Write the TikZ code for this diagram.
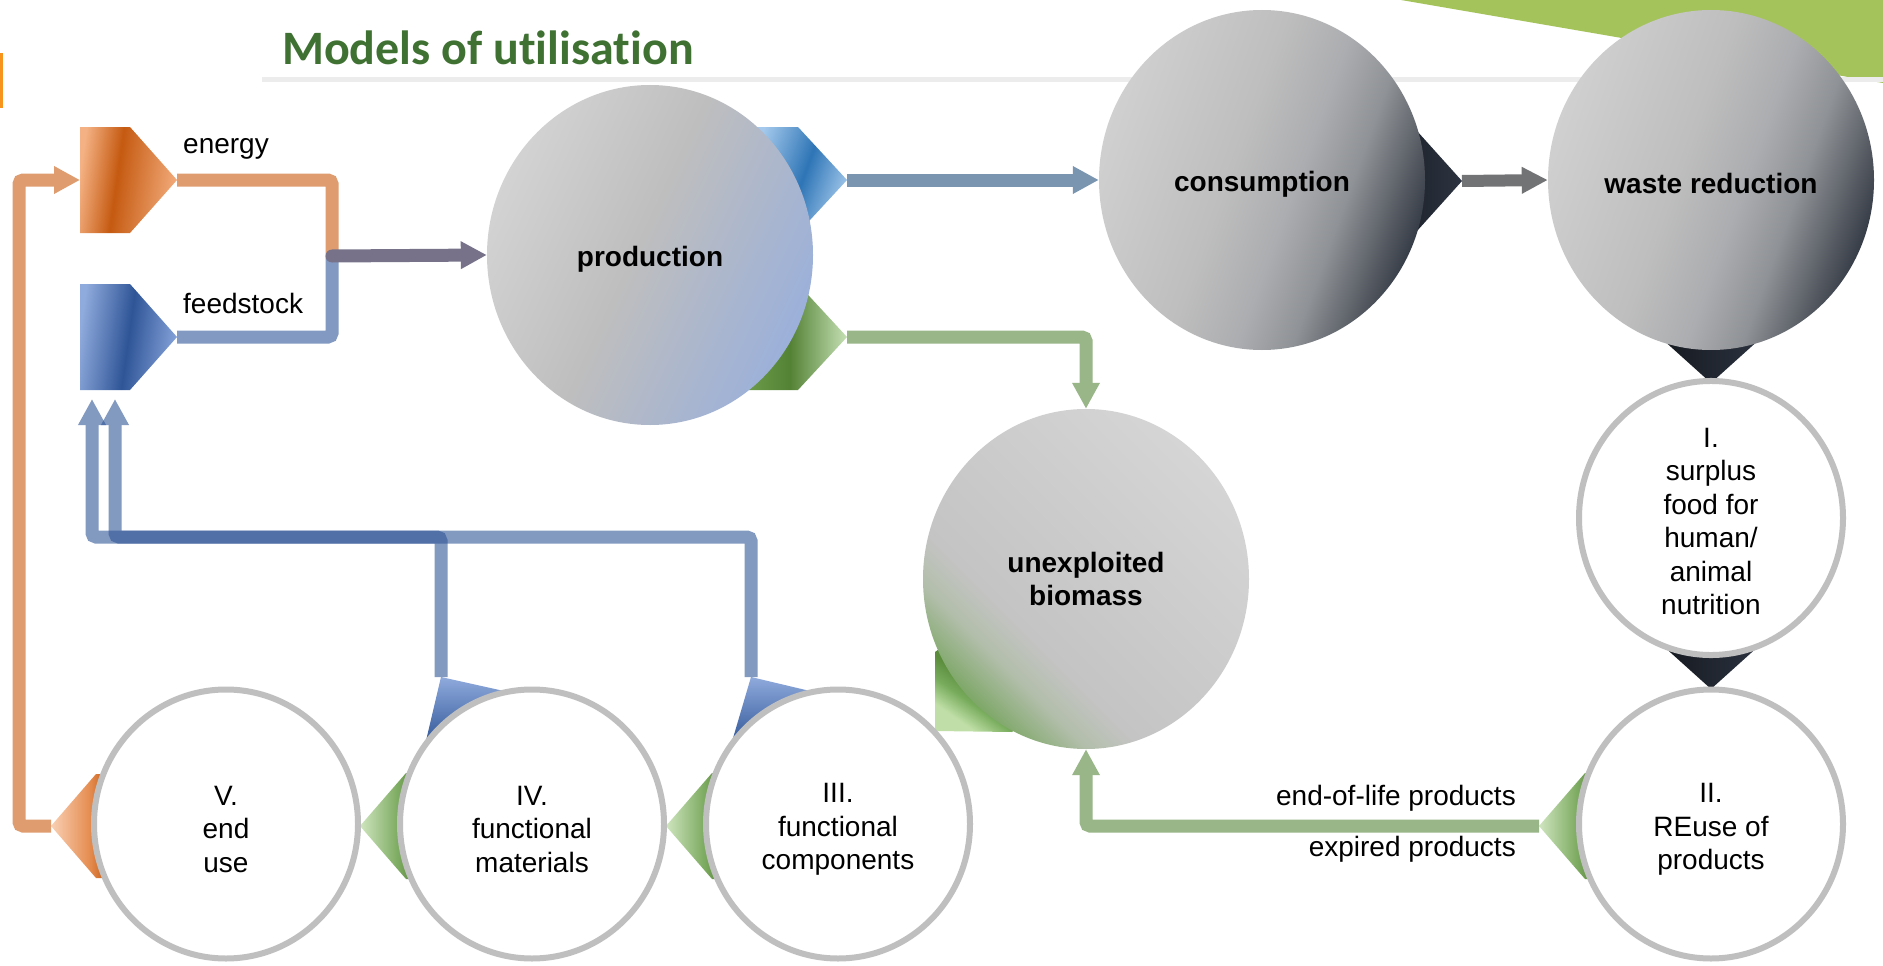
\documentclass[tikz,border=0pt]{standalone}
\usepackage{fontspec}
\setmainfont{Liberation Sans}
\newfontfamily\titlefont[Ligatures=NoCommon]{Carlito}
\usetikzlibrary{shapes.geometric,arrows.meta}

\definecolor{titlegreen}{HTML}{3F7132}
\definecolor{topgreen}{HTML}{A5C35B}
\definecolor{rulegray}{HTML}{ECECEC}
\definecolor{orangemark}{HTML}{F7941D}
\definecolor{ringgray}{HTML}{BFBFBF}
\definecolor{lineorange}{HTML}{DE9C6F}
\definecolor{lineblue}{HTML}{2F5597}
\definecolor{linefeed}{HTML}{8299C1}
\definecolor{linegreen}{HTML}{98B687}
\definecolor{lineprod}{HTML}{77728A}
\definecolor{linecons}{HTML}{7995B0}
\definecolor{linegray}{HTML}{727375}
\definecolor{prodA}{HTML}{D3D3D3}
\definecolor{prodB}{HTML}{BEBEBE}
\definecolor{prodC}{HTML}{9BB0DA}
\definecolor{dkA}{HTML}{D0D0D0}
\definecolor{dkB}{HTML}{BEBEBE}
\definecolor{dkC}{HTML}{ACADB0}
\definecolor{dkD}{HTML}{8F9296}
\definecolor{dkE}{HTML}{363C46}
\definecolor{unA}{HTML}{7FA869}
\definecolor{unB}{HTML}{B2BEAA}
\definecolor{unC}{HTML}{C4C4C4}
\definecolor{unD}{HTML}{D5D5D5}
\definecolor{orA}{HTML}{F4B183}
\definecolor{orB}{HTML}{C55A11}
\definecolor{orC}{HTML}{F3AC7C}
\definecolor{fbA}{HTML}{8FAADC}
\definecolor{fbB}{HTML}{2F5597}
\definecolor{fbC}{HTML}{86A3DA}
\definecolor{pbA}{HTML}{A4C9EC}
\definecolor{pbB}{HTML}{2E75B6}
\definecolor{pbC}{HTML}{A4C9EC}
\definecolor{gA}{HTML}{6A9A4A}
\definecolor{gB}{HTML}{548235}
\definecolor{gC}{HTML}{C5E0B4}
\definecolor{glA}{HTML}{CFE5BF}
\definecolor{glB}{HTML}{7CAA60}
\definecolor{glC}{HTML}{548235}
\definecolor{ucA}{HTML}{C0DFA8}
\definecolor{ucB}{HTML}{78AC5C}
\definecolor{ucC}{HTML}{5A8C3C}
\definecolor{olA}{HTML}{F9D0B4}
\definecolor{olB}{HTML}{E58E52}
\definecolor{olC}{HTML}{C55A11}
\definecolor{darkA}{HTML}{15191F}
\definecolor{darkB}{HTML}{2C3340}

\pgfdeclarehorizontalshading{prodshade}{100bp}{color(0bp)=(prodA); color(25bp)=(prodA); color(48bp)=(prodB); color(75bp)=(prodC); color(100bp)=(prodC)}
\pgfdeclarehorizontalshading{darkshade}{100bp}{color(0bp)=(dkA); color(25bp)=(dkA); color(45bp)=(dkB); color(55bp)=(dkC); color(63bp)=(dkD); color(75bp)=(dkE); color(100bp)=(dkE)}
\pgfdeclarehorizontalshading{unexpshade}{100bp}{color(0bp)=(unA); color(25bp)=(unA); color(32bp)=(unB); color(38bp)=(unC); color(75bp)=(unD); color(100bp)=(unD)}
\pgfdeclarehorizontalshading{orangeband}{100bp}{color(0bp)=(orA); color(25bp)=(orA); color(44bp)=(orB); color(75bp)=(orC); color(100bp)=(orC)}
\pgfdeclarehorizontalshading{blueband}{100bp}{color(0bp)=(fbA); color(25bp)=(fbA); color(50bp)=(fbB); color(75bp)=(fbC); color(100bp)=(fbC)}
\pgfdeclarehorizontalshading{skyband}{100bp}{color(0bp)=(pbA); color(25bp)=(pbA); color(52bp)=(pbB); color(75bp)=(pbC); color(100bp)=(pbC)}
\pgfdeclarehorizontalshading{greenband}{100bp}{color(0bp)=(gA); color(25bp)=(gA); color(46bp)=(gB); color(75bp)=(gC); color(100bp)=(gC)}
\pgfdeclarehorizontalshading{greenleft}{100bp}{color(0bp)=(glA); color(25bp)=(glA); color(45bp)=(glB); color(55bp)=(glC); color(100bp)=(glC)}
\pgfdeclarehorizontalshading{unexpchev}{100bp}{color(0bp)=(ucA); color(25bp)=(ucA); color(34bp)=(ucB); color(42bp)=(ucC); color(100bp)=(ucC)}
\pgfdeclarehorizontalshading{orangeleft}{100bp}{color(0bp)=(olA); color(25bp)=(olA); color(45bp)=(olB); color(55bp)=(olC); color(100bp)=(olC)}

\newcommand{\dgfont}{\fontsize{28}{33.5}\selectfont}
\newcommand{\dglift}[1]{\rule{0pt}{#1}}

\tikzset{
  bigball/.style={ellipse, shade, minimum width=326pt, minimum height=340pt, inner sep=0pt, align=center, font=\dgfont\bfseries},
  ringball/.style={ellipse, draw=ringgray, line width=6pt, fill=white, minimum width=264pt, minimum height=269pt, inner sep=0pt, align=center, font=\dgfont},
  flow/.style={line width=13pt},
  tipped/.style={-{Triangle[length=26pt,width=26pt]}},
  orangeflow/.style={flow, draw=lineorange, rounded corners=4pt},
  feedflow/.style={flow, draw=linefeed, rounded corners=4pt},
  blueflow/.style={flow, draw=lineblue, rounded corners=4pt},
  greenflow/.style={flow, draw=linegreen, rounded corners=4pt},
  plainlabel/.style={inner sep=0pt, font=\dgfont},
}

\begin{document}
\begin{tikzpicture}[x=1pt,y=-1pt]
\useasboundingbox (0,0) rectangle (1883,966);
\fill[white] (0,0) rectangle (1883,966);

% header
\fill[topgreen] (1401,0) -- (1883,0) -- (1883,83) -- cycle;
\fill[orangemark] (0,53) rectangle (3,108);
\draw[rulegray, line width=5pt] (262,80) -- (1883,80);
\node[anchor=base west, inner sep=0pt, text=titlegreen, font=\titlefont\bfseries\fontsize{48}{52}\selectfont] (title) at (282,65) {Models of utilisation};

% named points
\coordinate (etip) at (177,180);
\coordinate (ein) at (80,180);
\coordinate (ftip) at (177,337);
\coordinate (fin1) at (92,399);
\coordinate (fin2) at (115,399);
\coordinate (junc) at (332,256);
\coordinate (pbtip) at (847,180);
\coordinate (pgtip) at (847,337);
\coordinate (ctip) at (1462,181);
\coordinate (vtip) at (51,826);
\coordinate (loopO) at (19,826);
\coordinate (iitip) at (1539,826);
\coordinate (iiitop) at (751,677);
\coordinate (ivtop) at (441,677);
\coordinate (loopL) at (92,537);
\coordinate (loopR) at (115,537);

% chevrons
\shade[shading=orangeband, shading angle=-8] (80,127) -- (130,127) -- (etip) -- (130,233) -- (80,233) -- cycle;
\shade[shading=blueband, shading angle=-8] (80,284) -- (130,284) -- (ftip) -- (130,390) -- (80,390) -- cycle;
\shade[shading=skyband, shading angle=-20] (749,127) -- (798,127) -- (pbtip) -- (798,233) -- (749,233) -- cycle;
\shade[shading=greenband] (749,284) -- (798,284) -- (pgtip) -- (798,390) -- (749,390) -- cycle;
\shade[left color=darkA, right color=darkB] (1368,131) -- (1417,131) -- (ctip) -- (1417,231) -- (1368,231) -- cycle;
\shade[left color=darkA, right color=darkB] (1661,290) -- (1761,290) -- (1761,338) -- (1711,383) -- (1661,338) -- cycle;
\shade[left color=darkA, right color=darkB] (1661,600) -- (1761,600) -- (1761,644) -- (1711,689) -- (1661,644) -- cycle;
\shade[shading=orangeleft] (vtip) -- (96,774) -- (146,774) -- (146,878) -- (96,878) -- cycle;
\shade[shading=greenleft] (360,826) -- (406,773) -- (456,773) -- (456,879) -- (406,879) -- cycle;
\shade[shading=greenleft] (666,826) -- (712,773) -- (762,773) -- (762,879) -- (712,879) -- cycle;
\shade[shading=greenleft] (iitip) -- (1585,773) -- (1635,773) -- (1635,879) -- (1585,879) -- cycle;
\shade[shading=unexpchev, shading angle=55] (935,652) -- (935,731) -- (1012,732) -- (1060,690) -- (980,620) -- cycle;
\shade[top color=fbA, bottom color=fbB] (ivtop) -- (504,691) -- (482,725) -- (425,745) -- cycle;
\shade[top color=fbA, bottom color=fbB] (iiitop) -- (810,691) -- (788,725) -- (731,745) -- cycle;

% stages
\node[bigball, shading=prodshade, shading angle=-25] (prod) at (650,255) {\dglift{28pt}production};
\node[bigball, shading=darkshade, shading angle=-20] (cons) at (1262,180) {\dglift{28pt}consumption};
\node[bigball, shading=darkshade, shading angle=-20] (waste) at (1711,180) {\dglift{27pt}waste reduction};
\node[bigball, shading=unexpshade, shading angle=45] (unexp) at (1086,579) {unexploited\\biomass};
\node[ringball] (surplus) at (1711,518) {\dglift{26pt}I.\\surplus\\food for\\human/\\animal\\nutrition};
\node[ringball] (reuse) at (1711,824) {\dglift{30pt}II.\\REuse of\\products};
\node[ringball] (comp) at (838,824) {\dglift{30pt}III.\\functional\\components};
\node[ringball] (mat) at (532,824) {\dglift{30pt}IV.\\functional\\materials};
\node[ringball] (enduse) at (226,824) {\dglift{30pt}V.\\end\\use};

% connectors
\draw[orangeflow] (etip) -| (junc);
\draw[feedflow] (ftip) -| (junc);
\draw[flow, draw=lineprod, line cap=round, tipped] (junc) -- (prod.west);
\draw[flow, draw=linecons, tipped] (pbtip) -- (cons.west);
\draw[flow, draw=linegray, line width=12pt, -{Triangle[length=26pt,width=25pt]}] (ctip) -- (waste.west);
\draw[greenflow, tipped] (pgtip) -| (unexp.north);
\draw[greenflow, tipped] (iitip) -| (unexp.south);
\draw[orangeflow, tipped] (vtip) -- (loopO) |- (ein);
\begin{scope}[transparency group, opacity=0.6]
  \draw[blueflow, tipped] (iiitop) |- (loopL) -- (fin1);
\end{scope}
\begin{scope}[transparency group, opacity=0.6]
  \draw[blueflow, tipped] (ivtop) |- (loopR) -- (fin2);
\end{scope}

% labels
\node[plainlabel, anchor=base west] (lenergy) at (183,153) {energy};
\node[plainlabel, anchor=base west] (lfeed) at (183,313) {feedstock};
\node[plainlabel, anchor=base east] (leol) at (1516,805) {end-of-life products};
\node[plainlabel, anchor=base east] (lexp) at (1516,856) {expired products};
\end{tikzpicture}
\end{document}
